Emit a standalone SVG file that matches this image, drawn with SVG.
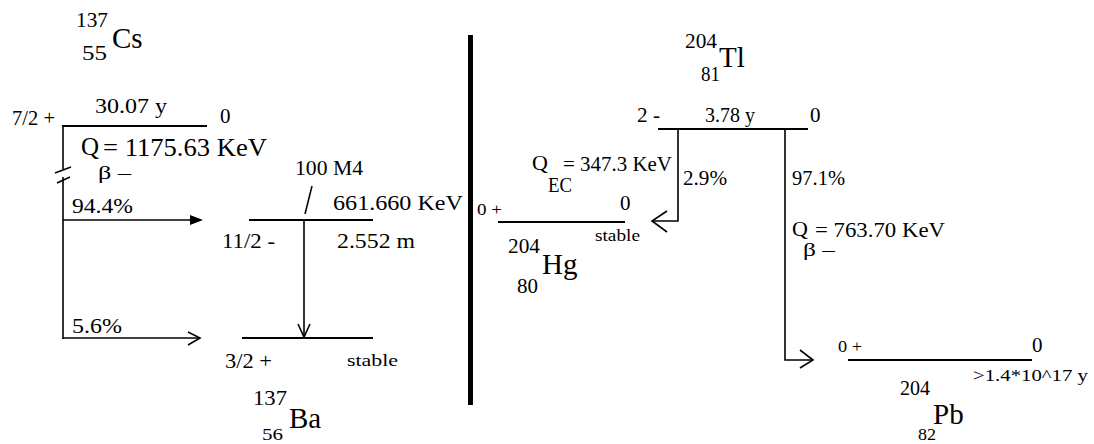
<svg xmlns="http://www.w3.org/2000/svg" width="1094" height="444" viewBox="0 0 1094 444" font-family="Liberation Serif, serif">
<style>
.t,.s,.q,.qr,.el,.b{font-family:"Liberation Serif","DejaVu Serif",serif;fill:#000}
.t{font-size:21px}
.s{font-size:17px}
.b{font-size:18px}
.q{font-size:25px}
.qr{font-size:22px}
.el{font-size:29px}
.lv{stroke:#000;stroke-width:2;fill:none}
.ln{stroke:#000;stroke-width:1.6;fill:none}
</style>
<rect width="1094" height="444" fill="#fff"/>

<g id="cs137">
<text class="t" x="76" y="27" textLength="32" lengthAdjust="spacingAndGlyphs">137</text>
<text class="el" x="112" y="48">Cs</text>
<text class="t" x="82" y="60" textLength="25" lengthAdjust="spacingAndGlyphs">55</text>
<text class="t" x="12" y="125" textLength="43" lengthAdjust="spacingAndGlyphs">7/2 +</text>
<text class="t" x="95" y="113" textLength="72" lengthAdjust="spacingAndGlyphs">30.07 y</text>
<text class="t" x="220" y="123">0</text>
<line class="lv" x1="62" y1="126" x2="207" y2="126"/>
<text class="q" x="81" y="155">Q</text>
<text class="q" x="103" y="156" textLength="164" lengthAdjust="spacingAndGlyphs">= 1175.63 KeV</text>
<text class="b" x="98" y="179" textLength="33" lengthAdjust="spacingAndGlyphs">β –</text>
</g>

<g id="ba137-11-2">
<line class="lv" x1="249" y1="220" x2="373" y2="220"/>
<text class="t" x="222" y="248" textLength="53" lengthAdjust="spacingAndGlyphs">11/2 -</text>
<text class="t" x="333" y="210" textLength="130" lengthAdjust="spacingAndGlyphs">661.660 KeV</text>
<text class="t" x="337" y="248" textLength="78" lengthAdjust="spacingAndGlyphs">2.552 m</text>
<text class="t" x="295" y="175" textLength="68" lengthAdjust="spacingAndGlyphs">100 M4</text>
</g>

<g id="ba137-3-2">
<line class="lv" x1="242" y1="338" x2="373" y2="338"/>
<text class="t" x="225" y="368" textLength="47" lengthAdjust="spacingAndGlyphs">3/2 +</text>
<text class="s" x="347" y="366" textLength="51" lengthAdjust="spacingAndGlyphs">stable</text>
<text class="t" x="253" y="405" textLength="34" lengthAdjust="spacingAndGlyphs">137</text>
<text class="el" x="289" y="428">Ba</text>
<text class="s" x="262" y="440" textLength="21" lengthAdjust="spacingAndGlyphs">56</text>
</g>

<g id="divider">
<line x1="470.5" y1="35" x2="470.5" y2="405" stroke="#000" stroke-width="5"/>
</g>

<g id="tl204">
<text class="t" x="685" y="48" textLength="32" lengthAdjust="spacingAndGlyphs">204</text>
<text class="el" x="719" y="67">Tl</text>
<text class="t" x="701" y="81" textLength="19" lengthAdjust="spacingAndGlyphs">81</text>
<text class="t" x="637" y="122" textLength="23" lengthAdjust="spacingAndGlyphs">2 -</text>
<text class="t" x="705" y="122" textLength="50" lengthAdjust="spacingAndGlyphs">3.78 y</text>
<text class="t" x="810" y="122">0</text>
<line class="lv" x1="658" y1="129" x2="808" y2="129"/>
</g>

<g id="hg204">
<text class="s" x="477" y="215" textLength="25" lengthAdjust="spacingAndGlyphs">0 +</text>
<text class="t" x="620" y="210">0</text>
<line class="lv" x1="498" y1="222" x2="625" y2="222"/>
<text class="s" x="595" y="241" textLength="45" lengthAdjust="spacingAndGlyphs">stable</text>
<text class="t" x="508" y="253" textLength="32" lengthAdjust="spacingAndGlyphs">204</text>
<text class="el" x="542" y="274">Hg</text>
<text class="t" x="517" y="293" textLength="21" lengthAdjust="spacingAndGlyphs">80</text>
</g>

<g id="pb204">
<text class="s" x="838" y="352" textLength="24" lengthAdjust="spacingAndGlyphs">0 +</text>
<text class="t" x="1032" y="352">0</text>
<line class="lv" x1="848" y1="360" x2="1032" y2="360"/>
<text class="s" x="973" y="381" textLength="115" lengthAdjust="spacingAndGlyphs">&gt;1.4*10^17 y</text>
<text class="t" x="900" y="395" textLength="30" lengthAdjust="spacingAndGlyphs">204</text>
<text class="el" x="933" y="424">Pb</text>
<text class="s" x="918" y="440" textLength="18" lengthAdjust="spacingAndGlyphs">82</text>
</g>

<g id="connectors">
<polyline class="ln" points="63,126 63,169"/>
<polyline class="ln" points="63,177 63,339"/>
<line class="ln" x1="55" y1="173" x2="71" y2="167"/>
<line class="ln" x1="57" y1="183" x2="70" y2="177"/>
<line class="ln" x1="63" y1="220" x2="200" y2="220"/>
<polygon points="190,215 203,220 190,225" fill="#000"/>
<text class="t" x="72" y="213" textLength="61" lengthAdjust="spacingAndGlyphs">94.4%</text>
<line class="ln" x1="63" y1="338" x2="200" y2="338"/>
<polyline class="ln" points="188,332 200,338 188,345"/>
<text class="t" x="72" y="333" textLength="50" lengthAdjust="spacingAndGlyphs">5.6%</text>
<line class="ln" x1="305" y1="214" x2="312" y2="186"/>
<line class="ln" x1="304" y1="220" x2="304" y2="337"/>
<polyline class="ln" points="298,324 304,337 310,324"/>
<polyline class="ln" points="678,129 678,221 653,221"/>
<polyline class="ln" points="667,211 652,221 667,232"/>
<text class="t" x="683" y="185" textLength="44" lengthAdjust="spacingAndGlyphs">2.9%</text>
<text class="qr" x="532" y="170">Q</text>
<text class="qr" x="563" y="171" textLength="109" lengthAdjust="spacingAndGlyphs">= 347.3 KeV</text>
<text class="t" x="548" y="192" textLength="24" lengthAdjust="spacingAndGlyphs">EC</text>
<polyline class="ln" points="785,129 785,360 812,360"/>
<polyline class="ln" points="800,350 813,360 800,368"/>
<text class="t" x="792" y="185" textLength="53" lengthAdjust="spacingAndGlyphs">97.1%</text>
<text class="qr" x="792" y="236">Q</text>
<text class="qr" x="815" y="237" textLength="130" lengthAdjust="spacingAndGlyphs">= 763.70 KeV</text>
<text class="b" x="803" y="256" textLength="32" lengthAdjust="spacingAndGlyphs">β –</text>
</g>
</svg>
